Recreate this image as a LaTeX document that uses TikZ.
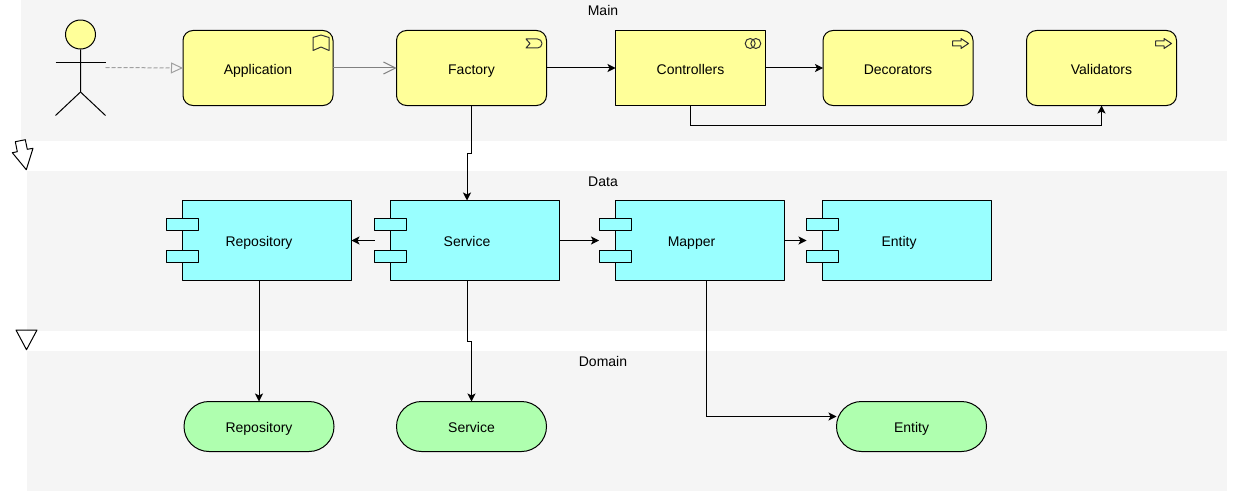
\documentclass[tikz,border=0pt]{standalone}
\usepackage{fontspec}
\setmainfont{Liberation Sans}
\usepackage{xcolor}
\usepackage{tikz}
\usetikzlibrary{calc,arrows.meta,shapes.geometric}
\definecolor{panel}{HTML}{F5F5F5}
\definecolor{biz}{HTML}{FFFF99}
\definecolor{app}{HTML}{99FFFF}
\definecolor{tech}{HTML}{AFFFAF}
\definecolor{faint}{HTML}{A0A0A0}
\definecolor{mid}{HTML}{808080}
\tikzset{
  band/.style={fill=panel, draw=none},
  lab/.style={text=black, font=\fontsize{10.5pt}{12pt}\selectfont, inner sep=0pt, outer sep=0pt, text height=8.25pt, text depth=0pt},
  base/.style={draw=black, line width=0.75pt, line join=round},
  box/.style={base, fill=biz, lab, text height=9.75pt, minimum width=112.5pt, minimum height=56.25pt},
  rbox/.style={box, rounded corners=7.5pt},
  comp/.style={base, fill=app},
  pill/.style={base, fill=tech, lab, minimum width=112.5pt, minimum height=37.5pt, rounded corners=18.75pt},
  cmp/.style={lab, minimum width=138.75pt, minimum height=60pt},
  icon/.style={draw=black!80, line width=0.75pt, line join=round},
  flow/.style={draw=black, line width=0.75pt, -{Stealth[length=6pt,width=6pt,inset=1.5pt]}},
  realize/.style={draw=faint, line width=0.75pt, dash pattern=on 3pt off 1.5pt, -{Triangle[open,length=9pt,width=8.25pt]}},
  trigger/.style={draw=mid, line width=0.75pt, -{Straight Barb[length=9pt,width=9pt]}},
}
\begin{document}
\begin{tikzpicture}[x=0.75pt,y=-0.75pt]
  \useasboundingbox (0,0) rectangle (1252,492);
  % layers
  \fill[band] (20.5,0) rectangle (1226.5,140.5);
  \fill[band] (26.5,170.5) rectangle (1226.5,330.5);
  \fill[band] (26.5,350.5) rectangle (1226.5,490.5);
  \node[lab] (MainLab) at (603,10.5) {Main};
  \node[lab] (DataLab) at (603,180.5) {Data};
  \node[lab] (DomLab) at (603,360.5) {Domain};
  % actor
  \node[base, fill=biz, ellipse, minimum width=22.5pt, minimum height=21.75pt, inner sep=0pt] (Head) at (80.5,34.5) {};
  \coordinate (Neck) at (80.5,92);
  \coordinate (Hand) at (105.5,67.5);
  \draw[base] (Head.south)--(Neck)--(55.5,115.5);
  \draw[base] (Neck)--(105.5,115.5);
  \draw[base] (55.5,63)--(105.5,63);
  % main row
  \node[rbox] (App) at (258,68) {Application};
  \node[rbox] (Fac) at (471.5,68) {Factory};
  \node[box] (Ctrl) at (690.5,68) {Controllers};
  \node[rbox] (Deco) at (898,68) {Decorators};
  \node[rbox] (Vali) at (1101.5,68) {Validators};
  % icons
  \draw[icon] (313,37.5)--(321,35)--(329,37.5)--(329,50.5)--(321,47)--(313,50.5)--cycle;
  \draw[icon] (526,39)--(537.5,39) arc (-90:90:4.5)--(526,48)--(530,43.5)--cycle;
  \draw[icon] (750.2,43.5) circle (5);
  \draw[icon] (755.8,43.5) circle (5);
  \foreach \ox in {952.5,1155.5}{
    \draw[icon] (\ox,41)--(\ox+8.5,41)--(\ox+8.5,38.5)--(\ox+16,43.5)--(\ox+8.5,48.5)--(\ox+8.5,46)--(\ox,46)--cycle;
  }
  % data row
  \foreach \nm/\cx/\txt in {Repo/259/Repository,Svc/467/Service,Map/691.5/Mapper,Ent/899/Entity}{
    \draw[comp] (\cx-76.5,200.5) rectangle (\cx+92.5,280.5);
    \draw[comp] (\cx-92.5,218.5) rectangle (\cx-60.5,230.5);
    \draw[comp] (\cx-92.5,250.5) rectangle (\cx-60.5,262.5);
    \node[cmp] (\nm) at (\cx,240.5) {\txt};
  }
  % domain row
  \node[pill] (RepoD) at (259,426.5) {Repository};
  \node[pill] (SvcD) at (471.5,426.5) {Service};
  \node[pill] (EntD) at (911.5,426.5) {Entity};
  % connectors
  \draw[realize] (Hand)--(App.west);
  \draw[trigger] (App.east)--(Fac.west);
  \draw[flow] (Fac.east)--(Ctrl.west);
  \draw[flow] (Ctrl.east)--(Deco.west);
  \draw[flow] (Ctrl.south)--++(0,20) -| (Vali.south);
  \draw[flow] (Fac.south)--++(0,48) -| (Svc.north);
  \draw[flow] (Svc.west)--(Repo.east);
  \draw[flow] (Svc.east)--(Map.west);
  \draw[flow] (Map.east)--(Ent.west);
  \draw[flow] (Repo.south)--(RepoD.north);
  \draw[flow] (Svc.south)--++(0,61) -| (SvcD.north);
  \draw[flow] ($(Map.south)+(15,0)$) |- ($(EntD.west)+(0,-10)$);
  % layer arrows
  \draw[base] (15.3,141.7)--(25.3,139.7)--(27.3,149.3)--(33,148.3)--(26.3,169.7)--(12.3,152.7)--(17.3,151.7)--cycle;
  \draw[base] (16,330)--(37,330)--(26.5,349.7)--cycle;
\end{tikzpicture}
\end{document}
